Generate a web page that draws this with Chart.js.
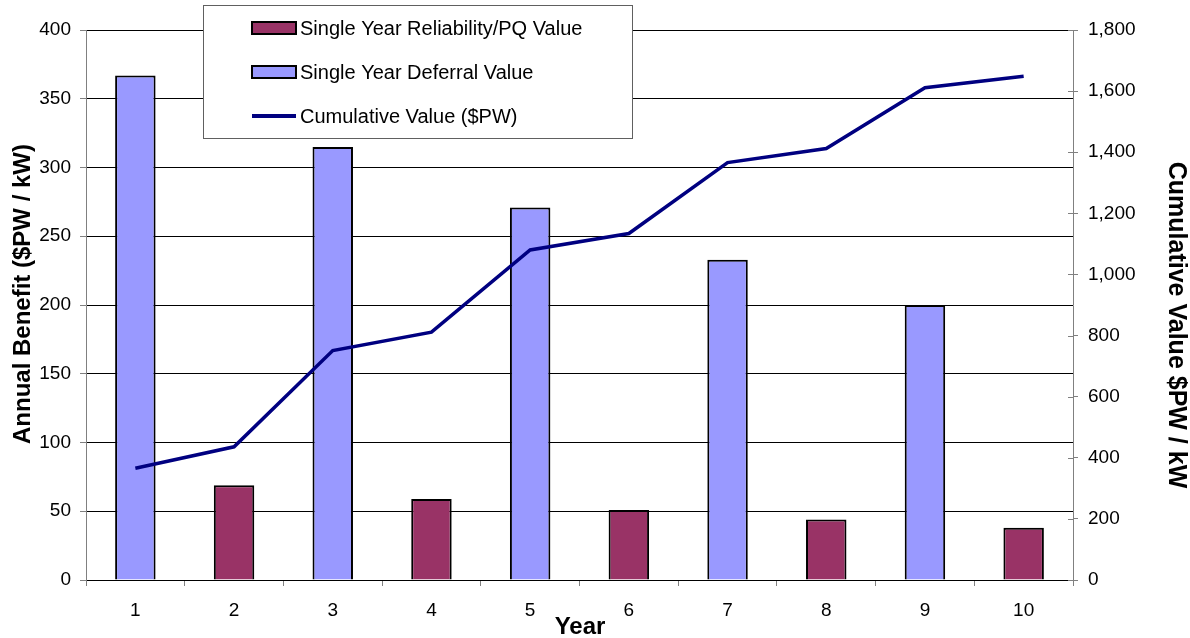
<!DOCTYPE html>
<html><head><meta charset="utf-8">
<script src="https://cdn.jsdelivr.net/npm/chart.js@4/dist/chart.umd.min.js"></script>
<style>html,body{margin:0;padding:0;background:#fff}#wrap{width:1190px;height:638px;position:relative}</style>
</head><body><div id="wrap"><canvas id="c" width="1190" height="638"></canvas></div>
<script>
const years = ['1','2','3','4','5','6','7','8','9','10'];
const reliabilityValues = [null, 69, null, 59, null, 51, null, 44, null, 38];
const deferralValues = [367, null, 315, null, 271, null, 233, null, 200, null];
const cumulativeValues = [366, 436, 751, 811, 1080, 1134, 1366, 1412, 1611, 1649];
const seriesNames = ['Single Year Reliability/PQ Value', 'Single Year Deferral Value', 'Cumulative Value ($PW)'];
const leftAxisTitle = 'Annual Benefit ($PW / kW)';
const rightAxisTitle = 'Cumulative Value $PW / kW';
const xAxisTitle = 'Year';

const FONT = '"Liberation Sans", Arial, sans-serif';

const overlay = {
  id: 'overlay',
  afterDraw(chart) {
    const ctx = chart.ctx;
    ctx.save();
    const y1 = chart.scales.y1;
    ctx.strokeStyle = '#808080'; ctx.lineWidth = 1;
    y1.ticks.forEach((t, i) => {
      const y = Math.round(y1.getPixelForTick(i)) + 0.5;
      ctx.beginPath(); ctx.moveTo(y1.left - 5, y); ctx.lineTo(y1.left, y); ctx.stroke();
    });
    ctx.fillStyle = '#000';
    ctx.textAlign = 'center'; ctx.textBaseline = 'middle';
    ctx.font = 'bold 24px ' + FONT;
    ctx.save(); ctx.translate(23, 294); ctx.rotate(-Math.PI / 2); ctx.fillText(leftAxisTitle, 0, 0); ctx.restore();
    ctx.font = 'bold 25px ' + FONT;
    ctx.save(); ctx.translate(1176, 325); ctx.rotate(Math.PI / 2); ctx.fillText(rightAxisTitle, 0, 0); ctx.restore();
    ctx.font = 'bold 24px ' + FONT;
    ctx.fillText(xAxisTitle, 580, 627);
    ctx.fillStyle = '#fff';
    ctx.fillRect(203.5, 5.5, 429, 133);
    ctx.strokeStyle = '#606060'; ctx.lineWidth = 1;
    ctx.strokeRect(203.5, 5.5, 429, 133);
    const rows = [28, 72, 116];
    chart.data.datasets.forEach((ds, i) => {
      const y = rows[i];
      if (ds.type === 'line') {
        ctx.strokeStyle = ds.borderColor; ctx.lineWidth = 4;
        ctx.beginPath(); ctx.moveTo(252, y); ctx.lineTo(296, y); ctx.stroke();
      } else {
        ctx.fillStyle = ds.backgroundColor;
        ctx.fillRect(252, y - 6, 44, 12);
        ctx.strokeStyle = '#000'; ctx.lineWidth = 2;
        ctx.strokeRect(252, y - 6, 44, 12);
      }
      ctx.fillStyle = '#000';
      ctx.font = '20px ' + FONT;
      ctx.textAlign = 'left'; ctx.textBaseline = 'middle';
      ctx.fillText(ds.label, 300, y + 1);
    });
    ctx.restore();
  }
};

new Chart(document.getElementById('c'), {
  data: {
    labels: years,
    datasets: [
      { type: 'bar', label: seriesNames[0], data: reliabilityValues, yAxisID: 'y', backgroundColor: '#993366', borderColor: '#000', borderWidth: 2, order: 2 },
      { type: 'bar', label: seriesNames[1], data: deferralValues, yAxisID: 'y', backgroundColor: '#9999FF', borderColor: '#000', borderWidth: 2, order: 2 },
      { type: 'line', label: seriesNames[2], data: cumulativeValues, yAxisID: 'y1', borderColor: '#000080', borderWidth: 3.5, pointRadius: 0, tension: 0, order: 1 }
    ]
  },
  options: {
    responsive: false,
    animation: false,
    devicePixelRatio: 1,
    layout: { padding: { top: 30, left: 0, right: 0, bottom: 0 } },
    datasets: { bar: { grouped: false, barPercentage: 0.41, categoryPercentage: 1 } },
    plugins: { legend: { display: false }, tooltip: { enabled: false } },
    scales: {
      x: {
        offset: true,
        grid: { offset: true, drawOnChartArea: false, tickLength: 6, tickColor: '#808080' },
        border: { color: '#000' },
        ticks: { color: '#000', font: { family: FONT, size: 19 }, padding: 13, maxRotation: 0 },
        afterFit(s) { s.height = 58; }
      },
      y: {
        position: 'left', min: 0, max: 400,
        ticks: { stepSize: 50, color: '#000', font: { family: FONT, size: 19 }, padding: 9 },
        grid: { color: '#000', tickColor: '#808080', tickLength: 6, lineWidth: 1 },
        border: { color: '#808080' },
        afterFit(s) { s.width = 86; }
      },
      y1: {
        position: 'right', min: 0, max: 1800,
        ticks: { stepSize: 200, color: '#000', font: { family: FONT, size: 19 }, padding: 10,
          callback: v => Number(v).toLocaleString('en-US') },
        grid: { drawOnChartArea: false, tickColor: '#808080', tickLength: 5 },
        border: { color: '#808080' },
        afterFit(s) { s.width = 117; }
      }
    }
  },
  plugins: [overlay]
});
</script></body></html>
